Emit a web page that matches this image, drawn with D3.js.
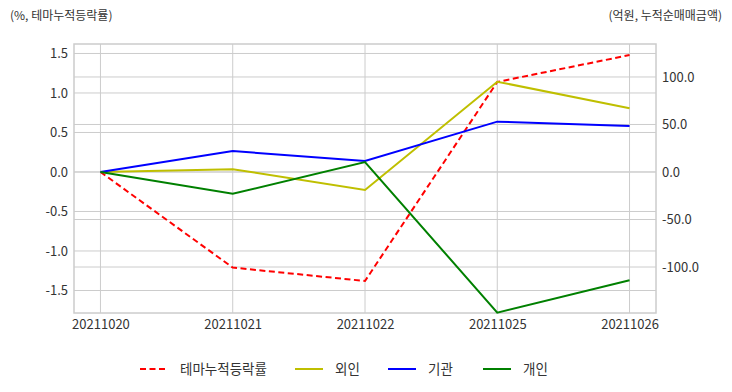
<!DOCTYPE html>
<html>
<head>
<meta charset="utf-8">
<script src="https://cdn.jsdelivr.net/npm/d3@7"></script>
<style>
  body { margin: 0; background: #fff; }
  svg text { font-family: "Noto Sans CJK KR", "Noto Sans", sans-serif; fill: #333; }
</style>
</head>
<body>
<svg id="chart" width="732" height="392"></svg>
<script>
// dates on the x axis
const dates = ["20211020", "20211021", "20211022", "20211025", "20211026"];
// left axis: theme cumulative return (%)
const themeRate = [0, -1.21, -1.38, 1.14, 1.48];
// right axis: cumulative net buying (100M won)
const foreign = [0, 3, -19, 95, 67];
const institution = [0, 22, 11.5, 53, 48.5];
const individual = [0, -23, 10.5, -148, -114];

const leftTicks = [-1.5, -1.0, -0.5, 0.0, 0.5, 1.0, 1.5];
const rightTicks = [-100, -50, 0, 50, 100];

const series = [
  { name: "테마누적등락률", values: themeRate, axis: "left", color: "#ff0000", dash: "6,3.5" },
  { name: "외인", values: foreign, axis: "right", color: "#bfbf00", dash: null },
  { name: "기관", values: institution, axis: "right", color: "#0000ff", dash: null },
  { name: "개인", values: individual, axis: "right", color: "#008000", dash: null }
];

const svg = d3.select("#chart");
const plot = { left: 74, right: 656, top: 44, bottom: 313 };

const x = d3.scaleLinear().domain([-0.2, dates.length - 1 + 0.2]).range([plot.left, plot.right]);
const yL = d3.scaleLinear().domain([-1.785, 1.62]).range([plot.bottom, plot.top]);
const yR = d3.scaleLinear().domain([-148.4, 134.7]).range([plot.bottom, plot.top]);

const gridColor = "#cccccc";
const grid = svg.append("g");

// vertical grid
grid.selectAll("line.vx").data(dates).join("line")
  .attr("x1", (d, i) => x(i)).attr("x2", (d, i) => x(i))
  .attr("y1", plot.top).attr("y2", plot.bottom)
  .attr("stroke", gridColor).attr("stroke-width", 1);

// horizontal grid for both axes
grid.selectAll("line.hl").data(leftTicks).join("line")
  .attr("x1", plot.left).attr("x2", plot.right)
  .attr("y1", d => yL(d)).attr("y2", d => yL(d))
  .attr("stroke", gridColor).attr("stroke-width", 1);
grid.selectAll("line.hr").data(rightTicks).join("line")
  .attr("x1", plot.left).attr("x2", plot.right)
  .attr("y1", d => yR(d)).attr("y2", d => yR(d))
  .attr("stroke", gridColor).attr("stroke-width", 1);

// frame
svg.append("rect")
  .attr("x", plot.left).attr("y", plot.top)
  .attr("width", plot.right - plot.left).attr("height", plot.bottom - plot.top)
  .attr("fill", "none").attr("stroke", gridColor).attr("stroke-width", 1.5);

// axes
const axL = svg.append("g").attr("transform", `translate(${plot.left},0)`)
  .call(d3.axisLeft(yL).tickValues(leftTicks).tickFormat(d3.format(".1f")).tickSize(0).tickPadding(6));
const axR = svg.append("g").attr("transform", `translate(${plot.right},0)`)
  .call(d3.axisRight(yR).tickValues(rightTicks).tickFormat(d3.format(".1f")).tickSize(0).tickPadding(6));
const axB = svg.append("g").attr("transform", `translate(0,${plot.bottom})`)
  .call(d3.axisBottom(x).tickValues(d3.range(dates.length)).tickFormat(i => dates[i]).tickSize(0).tickPadding(7));
[axL, axR, axB].forEach(a => {
  a.select(".domain").remove();
  a.selectAll(".tick text").style("font-size", "13px").style("fill", "#333")
    .style("font-family", "'Noto Sans CJK KR', sans-serif");
});
// plain hyphen minus like the reference
axL.selectAll(".tick text").text(d => d3.format(".1f")(d).replace("−", "-"));
axR.selectAll(".tick text").text(d => d3.format(".1f")(d).replace("−", "-"));

// lines
series.forEach(s => {
  const y = s.axis === "left" ? yL : yR;
  const line = d3.line().x((d, i) => x(i)).y(d => y(d));
  svg.append("path")
    .datum(s.values)
    .attr("d", line)
    .attr("fill", "none")
    .attr("stroke", s.color)
    .attr("stroke-width", 2)
    .attr("stroke-dasharray", s.dash);
});

// axis titles
svg.append("text").attr("x", 10).attr("y", 20)
  .style("font-size", "12px").text("(%, 테마누적등락률)");
svg.append("text").attr("x", 722).attr("y", 20).attr("text-anchor", "end")
  .style("font-size", "12px").text("(억원, 누적순매매금액)");

// legend
const legendX = [140, 295, 388, 483];
const legend = svg.append("g").selectAll("g").data(series).join("g")
  .attr("transform", (d, i) => `translate(${legendX[i]},369)`);
legend.append("line")
  .attr("x1", 0).attr("x2", 28).attr("y1", 0).attr("y2", 0)
  .attr("stroke", d => d.color).attr("stroke-width", 2)
  .attr("stroke-dasharray", d => d.dash);
legend.append("text")
  .attr("x", 40).attr("y", 0).attr("dy", "0.35em")
  .style("font-size", "13.5px")
  .text(d => d.name);
</script>
</body>
</html>
